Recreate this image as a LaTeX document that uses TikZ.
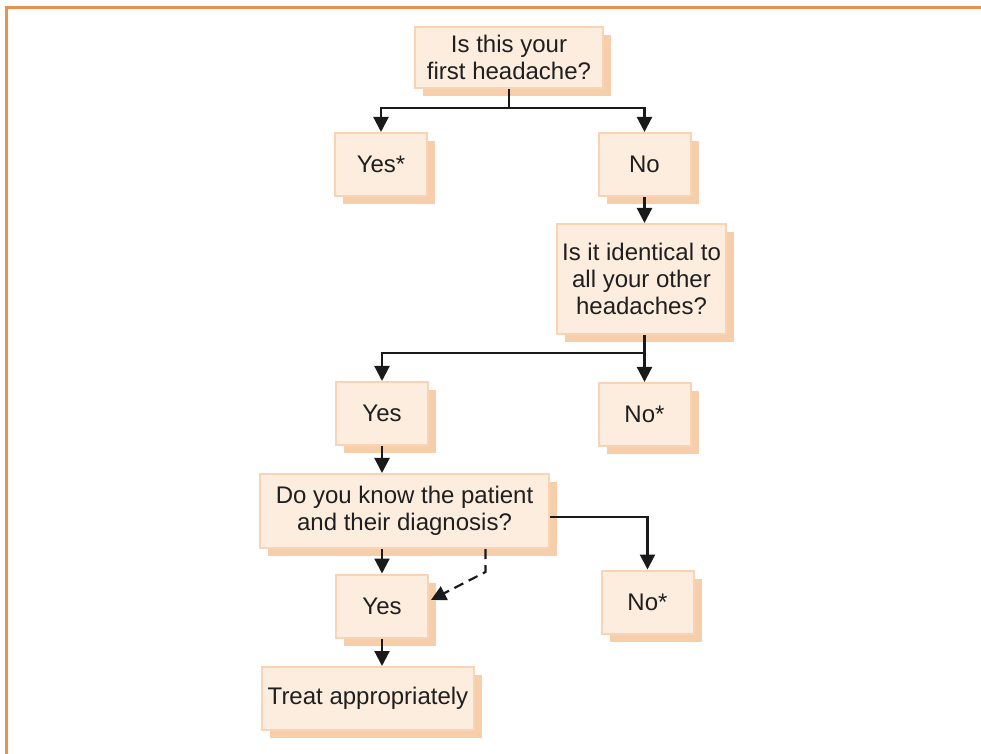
\documentclass[tikz,border=0pt]{standalone}
\usepackage{fontspec}
\setmainfont{Liberation Sans}
\usetikzlibrary{arrows.meta,calc,shadows}

\definecolor{boxfill}{RGB}{252,237,222}
\definecolor{boxline}{RGB}{248,212,180}
\definecolor{boxshade}{RGB}{246,206,170}
\definecolor{framec}{RGB}{232,146,80}
\definecolor{linec}{RGB}{26,26,26}

\begin{document}
\begin{tikzpicture}[
  x=0.5pt, y=-0.5pt,
  font=\fontsize{12}{13.5}\selectfont,
  >={Triangle[width=7.5pt,length=7.5pt]},
  box/.style={draw=boxline,line width=1pt,fill=boxfill,align=center,inner sep=2pt,
              text=black!88,minimum width=46pt,minimum height=31.5pt,
              drop shadow={shadow xshift=4pt,shadow yshift=-4pt,fill=boxshade,opacity=1}},
  link/.style={draw=linec,line width=1.1pt},
]
\useasboundingbox (0,0) rectangle (981,754);

%% ============================================================
%% Coordinates in pixels of the page, y running downwards
%% ============================================================

% --- Page frame (top and left rule) ---
\draw[framec,line width=1.5pt] (6,754) -- (6,8) -- (981,8);

% --- First question and its answers ---
\node[box,minimum width=94pt,minimum height=30.5pt] (first) at (509,57.5)
      {Is this your\\first headache?};
\node[box] (firstyes) at (381,164.5) {Yes*};
\node[box] (firstno)  at (644.5,164.5) {No};

\draw[link] (first.south) -- ++(0,19) coordinate (split1);
\draw[link,->] (split1) -| (firstyes.north);
\draw[link,->] (split1) -| (firstno.north);

% --- Second question ---
\node[box,minimum width=84.5pt,minimum height=55pt] (same) at (641.5,279)
      {Is it identical to\\all your other\\headaches?};
\draw[link,->] (firstno.south) -- (firstno.south |- same.north);

\node[box] (sameyes) at (382,413.5) {Yes};
\node[box] (sameno)  at (644.5,414.5) {No*};

\draw[link,->] (sameno.north |- same.south) -- (sameno.north);
\draw[link,->] ($(sameno.north |- same.south)+(0,18)$) -| (sameyes.north);

% --- Third question ---
\node[box,minimum width=144.5pt,minimum height=37pt] (know) at (404.5,511)
      {Do you know the patient\\and their diagnosis?};
\draw[link,->] (sameyes.south) -- (sameyes.south |- know.north);

\node[box] (knowyes) at (382,606) {Yes};
\node[box] (knowno)  at (647.5,602) {No*};

\draw[link,->] ([yshift=-3pt]know.east) -| (knowno.north);
\draw[link,->] (knowyes.north |- know.south) -- (knowyes.north);
\draw[link,->,dash pattern=on 5pt off 3pt]
      ($(know.south)+(81,0)$) -- ++(0,23) -- ($(knowyes.east)+(2,-6)$);

% --- Outcome ---
\node[box,minimum width=106pt] (treat) at (368,698.5) {Treat appropriately};
\draw[link,->] (knowyes.south) -- (knowyes.south |- treat.north);

\end{tikzpicture}
\end{document}
